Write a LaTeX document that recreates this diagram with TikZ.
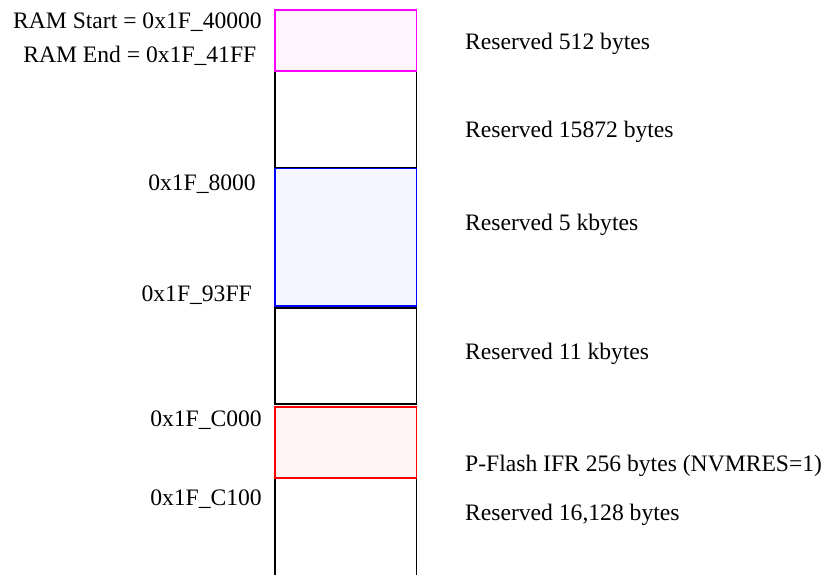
\documentclass[tikz,border=0pt]{standalone}
\usepackage{fontspec}
\setmainfont{Liberation Serif}
\definecolor{magfill}{HTML}{FDF4FD}
\definecolor{bluefill}{HTML}{F5F6FF}
\definecolor{redfill}{HTML}{FFF5F5}
\definecolor{magline}{HTML}{FF00FF}
\begin{document}
\begin{tikzpicture}[x=1pt,y=-1pt,
  region/.style={draw=black,line width=1.4pt,rectangle,inner sep=0pt,minimum width=141.7pt,fill=white},
  addr/.style={anchor=base east,inner sep=0pt,font=\fontsize{23.6}{28}\selectfont},
  desc/.style={anchor=base west,inner sep=0pt,font=\fontsize{23.6}{28}\selectfont}]
\clip (0,0) rectangle (830,575);
\fill[white] (0,0) rectangle (830,575);
% memory regions
\node[region,minimum height=97pt] (r1) at (345.85,119.5) {};
\node[region,draw=magline,fill=magfill,minimum height=61pt] (r0) at (345.85,40.5) {};
\node[region,draw=blue,fill=bluefill,minimum height=137.5pt] (r2) at (345.85,237) {};
\draw[blue,line width=2.2pt] (r2.south west) -- (r2.south east);
\node[region,minimum height=96pt] (r3) at (345.85,356) {};
\node[region,minimum height=140pt] (r5) at (345.85,548) {};
\node[region,draw=red,fill=redfill,minimum height=71pt] (r4) at (345.85,442.5) {};
% address labels
\node[addr] (a0) at (262,29) {RAM Start = 0x1F\_40000};
\node[addr] (a1) at (256.5,62.5) {RAM End = 0x1F\_41FF};
\node[addr] (a2) at (256,190) {0x1F\_8000};
\node[addr] (a3) at (252,301) {0x1F\_93FF};
\node[addr] (a4) at (262,426.5) {0x1F\_C000};
\node[addr] (a5) at (262,505) {0x1F\_C100};
% descriptions
\node[desc] (d0) at (465,50) {Reserved 512 bytes};
\node[desc] (d1) at (465,137.5) {Reserved 15872 bytes};
\node[desc] (d2) at (465,230) {Reserved 5 kbytes};
\node[desc] (d3) at (465,359) {Reserved 11 kbytes};
\node[desc] (d4) at (465,471.5) {P-Flash IFR 256 bytes (NVMRES=1)};
\node[desc] (d5) at (465,520.5) {Reserved 16,128 bytes};
\end{tikzpicture}
\end{document}
